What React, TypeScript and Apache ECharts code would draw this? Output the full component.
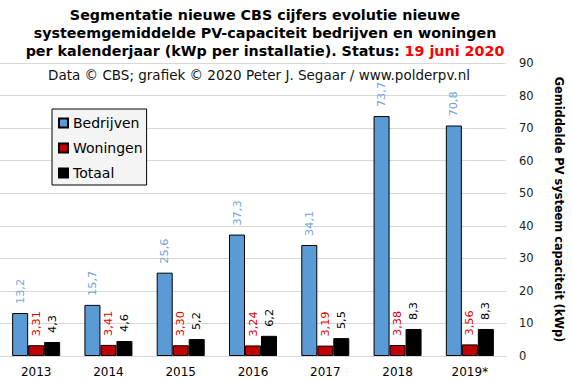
import React, { useEffect, useRef } from "react";
import * as echarts from "echarts";

const years = ["2013", "2014", "2015", "2016", "2017", "2018", "2019*"];
const bedrijven = [13.2, 15.7, 25.6, 37.3, 34.1, 73.7, 70.8];
const woningen = [3.31, 3.41, 3.3, 3.24, 3.19, 3.38, 3.56];
const totaal = [4.3, 4.6, 5.2, 6.2, 5.5, 8.3, 8.3];
const yTicks = { min: 0, max: 90, interval: 10 };

const FONT = "DejaVu Sans";

function fmt(v: number, dec: number) {
  return v.toFixed(dec).replace(".", ",");
}

export default function App() {
  const ref = useRef<HTMLDivElement>(null);
  useEffect(() => {
    document.body.style.margin = "0";
    if (!ref.current) return;
    const chart = echarts.init(ref.current, null, { renderer: "svg" });
    const mkLabel = (color: string, dec: number) => ({
      show: true,
      position: "top" as const,
      rotate: 90,
      align: "left" as const,
      verticalAlign: "middle" as const,
      distance: 9,
      color,
      fontFamily: FONT,
      fontSize: 11.3,
      formatter: (p: any) => fmt(p.value, dec),
    });
    chart.setOption({
      animation: false,
      backgroundColor: "#ffffff",
      textStyle: { fontFamily: FONT },
      title: [
        {
          text:
            "Segmentatie nieuwe CBS cijfers evolutie nieuwe\nsysteemgemiddelde PV-capaciteit bedrijven en woningen\nper kalenderjaar (kWp per installatie). Status: {r|19 juni 2020}",
          left: 260,
          top: 1,
          textAlign: "center",
          textStyle: {
            fontFamily: FONT,
            fontSize: 14.3,
            fontWeight: "bold",
            color: "#000",
            lineHeight: 18,
            rich: {
              r: {
                fontFamily: FONT,
                fontSize: 14.3,
                fontWeight: "bold",
                color: "#ff0000",
                lineHeight: 18,
              },
            },
          },
        },
        {
          text: "Data © CBS; grafiek © 2020 Peter J. Segaar / www.polderpv.nl",
          left: 254,
          top: 63,
          textAlign: "center",
          textStyle: {
            fontFamily: FONT,
            fontSize: 13.5,
            fontWeight: "normal",
            color: "#111",
          },
        },
      ],
      legend: {
        orient: "vertical",
        left: 52,
        top: 109,
        padding: [7, 4, 5, 6],
        backgroundColor: "#f4f4f4",
        borderColor: "#000",
        borderWidth: 1,
        itemWidth: 9,
        itemHeight: 9,
        itemGap: 11,
        icon: "rect",
        textStyle: { fontFamily: FONT, fontSize: 14, color: "#000" },
        data: ["Bedrijven", "Woningen", "Totaal"],
      },
      grid: { left: 0, right: 63, top: 63, bottom: 24, containLabel: false },
      xAxis: {
        type: "category",
        data: years,
        axisLine: { show: true, lineStyle: { color: "#d6d9d9" } },
        axisTick: { show: false },
        axisLabel: { fontFamily: FONT, fontSize: 12, color: "#000", margin: 10 },
      },
      yAxis: {
        type: "value",
        position: "right",
        min: yTicks.min,
        max: yTicks.max,
        interval: yTicks.interval,
        axisLine: { show: false },
        axisTick: { show: false },
        splitLine: { lineStyle: { color: "#d6d9d9", width: 1 } },
        axisLabel: { fontFamily: FONT, fontSize: 11.5, color: "#222", margin: 13 },
        name: "Gemiddelde PV systeem capaciteit (kWp)",
        nameLocation: "middle",
        nameRotate: -90,
        nameGap: 47,
        nameTextStyle: {
          fontFamily: FONT,
          fontSize: 11.4,
          fontWeight: "bold",
          color: "#000",
        },
      },
      series: [
        {
          name: "Bedrijven",
          type: "bar",
          data: bedrijven,
          barWidth: 16,
          barGap: "0%",
          itemStyle: { color: "#5b9bd5", borderColor: "#000", borderWidth: 1 },
          label: mkLabel("#74a3dc", 1),
        },
        {
          name: "Woningen",
          type: "bar",
          data: woningen,
          barWidth: 16,
          barGap: "0%",
          itemStyle: { color: "#c00000", borderColor: "#000", borderWidth: 1 },
          label: mkLabel("#e60000", 2),
        },
        {
          name: "Totaal",
          type: "bar",
          data: totaal,
          barWidth: 16,
          barGap: "0%",
          itemStyle: { color: "#000000", borderColor: "#000", borderWidth: 1 },
          label: mkLabel("#000000", 1),
        },
      ],
    });
    return () => chart.dispose();
  }, []);
  return <div ref={ref} style={{ width: 572, height: 380 }} />;
}
